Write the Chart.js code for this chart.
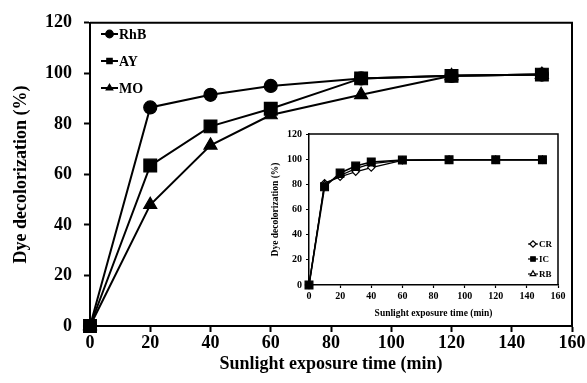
<!DOCTYPE html>
<html>
<head>
<meta charset="utf-8">
<script src="https://cdn.jsdelivr.net/npm/chart.js@4/dist/chart.umd.min.js"></script>
<style>
  body { margin: 0; background: #fff; }
  #wrap { position: relative; width: 587px; height: 383px; }
  #main { position: absolute; left: 0; top: 0; }
  #inset { position: absolute; left: 250px; top: 124px; }
</style>
</head>
<body>
<div id="wrap">
  <canvas id="main" width="587" height="383"></canvas>
  <canvas id="inset" width="320" height="200"></canvas>
</div>
<script>
// main plot: RhB, AY, MO
const mainTimes = [0, 20, 40, 60, 90, 120, 150];
const rhb = [0, 86.5, 91.5, 95, 98, 99, 99.5];
const ay = [0, 63.5, 79, 86, 98, 99, 99.5];
const mo = [0, 48, 71.5, 83.5, 91.5, 99, 99.5];

// inset plot: CR, IC, RB
const insetTimes = [0, 10, 20, 30, 40, 60, 90, 120, 150];
const cr = [0, 81, 86, 90, 93.3, 99, 99.5, 99.5, 99.5];
const ic = [0, 78, 89, 94.5, 97.8, 99.3, 99.5, 99.5, 99.5];
const rb = [0, 80, 87, 92.5, 96.5, 99, 99.5, 99.5, 99.5];

const serif = 'Liberation Serif';
const pairs = (xs, ys) => xs.map((x, i) => ({ x: x, y: ys[i] }));

function markerAt(ctx, style, r, x, y, fill) {
  ctx.save();
  ctx.fillStyle = fill;
  ctx.strokeStyle = '#000';
  ctx.lineWidth = 1.2;
  Chart.helpers.drawPoint(ctx, { pointStyle: style, radius: r, rotation: 0, borderWidth: 1.2 }, x, y);
  ctx.restore();
}

// top + right lines of the plot box
const frame = {
  id: 'frame',
  afterDraw(chart, args, opts) {
    const { ctx, chartArea: a } = chart;
    ctx.save();
    ctx.strokeStyle = '#000';
    ctx.lineWidth = opts.width;
    ctx.beginPath();
    ctx.moveTo(a.left, a.top);
    ctx.lineTo(a.right, a.top);
    ctx.lineTo(a.right, a.bottom);
    ctx.stroke();
    ctx.restore();
  }
};

// small legend inside the plot
const boxLegend = {
  id: 'boxLegend',
  afterDraw(chart, args, opts) {
    const { ctx } = chart;
    chart.data.datasets.forEach((ds, i) => {
      const y = opts.y + i * opts.gap;
      ctx.save();
      ctx.strokeStyle = '#000';
      ctx.lineWidth = opts.lineWidth;
      ctx.beginPath();
      ctx.moveTo(opts.x, y);
      ctx.lineTo(opts.x + opts.len, y);
      ctx.stroke();
      ctx.restore();
      markerAt(ctx, ds.pointStyle, opts.radius, opts.x + opts.len / 2, y, ds.pointBackgroundColor);
      ctx.save();
      ctx.fillStyle = '#000';
      ctx.font = 'bold ' + opts.size + 'px "' + serif + '"';
      ctx.textBaseline = 'middle';
      ctx.fillText(ds.label, opts.x + opts.len + 1, y + 1);
      ctx.restore();
    });
  }
};

function lineSet(label, xs, ys, style, radius, fill, width, order) {
  return {
    label: label,
    data: pairs(xs, ys),
    order: order,
    borderColor: '#000',
    borderWidth: width,
    pointStyle: style,
    pointRadius: radius,
    pointHoverRadius: radius,
    pointBackgroundColor: fill,
    pointBorderColor: '#000',
    pointBorderWidth: 1.2,
    tension: 0,
    clip: false
  };
}

new Chart(document.getElementById('main'), {
  type: 'line',
  data: {
    datasets: [
      lineSet('RhB', mainTimes, rhb, 'circle', 6.5, '#000', 2, 2),
      lineSet('AY', mainTimes, ay, 'rect', 9, '#000', 2, 0),
      lineSet('MO', mainTimes, mo, 'triangle', 7.5, '#000', 2, 1)
    ]
  },
  options: {
    responsive: false,
    animation: false,
    devicePixelRatio: 1,
    layout: { padding: { left: 0, right: 15, top: 19, bottom: 0 } },
    plugins: {
      legend: { display: false },
      tooltip: { enabled: false },
      frame: { width: 2 },
      boxLegend: { x: 101, y: 34, gap: 27, len: 17, radius: 3.8, size: 14, lineWidth: 2 }
    },
    scales: {
      x: {
        type: 'linear',
        min: 0,
        max: 160,
        ticks: { stepSize: 20, color: '#000', padding: 1, font: { family: serif, size: 18, weight: 'bold' } },
        grid: { drawOnChartArea: false, tickLength: 6, tickWidth: 2, tickColor: '#000' },
        border: { display: true, color: '#000', width: 2 },
        title: {
          display: true,
          text: 'Sunlight exposure time (min)',
          color: '#000',
          padding: { top: 0, bottom: 8 },
          font: { family: serif, size: 18, weight: 'bold' }
        },
        afterFit: (s) => { s.height = 57; }
      },
      y: {
        min: 0,
        max: 120,
        ticks: { stepSize: 20, color: '#000', padding: 12, font: { family: serif, size: 18, weight: 'bold' } },
        grid: { drawOnChartArea: false, tickLength: 6, tickWidth: 2, tickColor: '#000' },
        border: { display: true, color: '#000', width: 2 },
        title: {
          display: true,
          text: 'Dye decolorization (%)',
          color: '#000',
          padding: { top: 11, bottom: 0 },
          font: { family: serif, size: 18, weight: 'bold' }
        },
        afterFit: (s) => { s.width = 90; }
      }
    }
  },
  plugins: [frame, boxLegend]
});

new Chart(document.getElementById('inset'), {
  type: 'line',
  data: {
    datasets: [
      lineSet('CR', insetTimes, cr, 'rectRot', 3.6, '#fff', 1.3, 2),
      lineSet('IC', insetTimes, ic, 'rect', 5.5, '#000', 1.6, 0),
      lineSet('RB', insetTimes, rb, 'triangle', 3.6, '#fff', 1.3, 1)
    ]
  },
  options: {
    responsive: false,
    animation: false,
    devicePixelRatio: 1,
    layout: { padding: { left: 0, right: 12, top: 7, bottom: 0 } },
    plugins: {
      legend: { display: false },
      tooltip: { enabled: false },
      frame: { width: 1.5 },
      boxLegend: { x: 278, y: 120, gap: 15, len: 10, radius: 3.2, size: 9, lineWidth: 1.2 }
    },
    scales: {
      x: {
        type: 'linear',
        min: 0,
        max: 160,
        ticks: { stepSize: 20, color: '#000', padding: 2, font: { family: serif, size: 10, weight: 'bold' } },
        grid: { drawOnChartArea: false, tickLength: 3, tickWidth: 1.2, tickColor: '#000' },
        border: { display: true, color: '#000', width: 1.5 },
        title: {
          display: true,
          text: 'Sunlight exposure time (min)',
          color: '#000',
          padding: { top: 0, bottom: 5 },
          font: { family: serif, size: 9.5, weight: 'bold' }
        },
        afterFit: (s) => { s.height = 39; }
      },
      y: {
        min: 0,
        max: 120,
        ticks: { stepSize: 20, color: '#000', padding: 4, font: { family: serif, size: 10, weight: 'bold' } },
        grid: { drawOnChartArea: false, tickLength: 3, tickWidth: 1.2, tickColor: '#000' },
        border: { display: true, color: '#000', width: 1.5 },
        title: {
          display: true,
          text: 'Dye decolorization (%)',
          color: '#000',
          padding: { top: 20, bottom: 0 },
          font: { family: serif, size: 9.5, weight: 'bold' }
        },
        afterFit: (s) => { s.width = 59; }
      }
    }
  },
  plugins: [frame, boxLegend]
});
</script>
</body>
</html>
